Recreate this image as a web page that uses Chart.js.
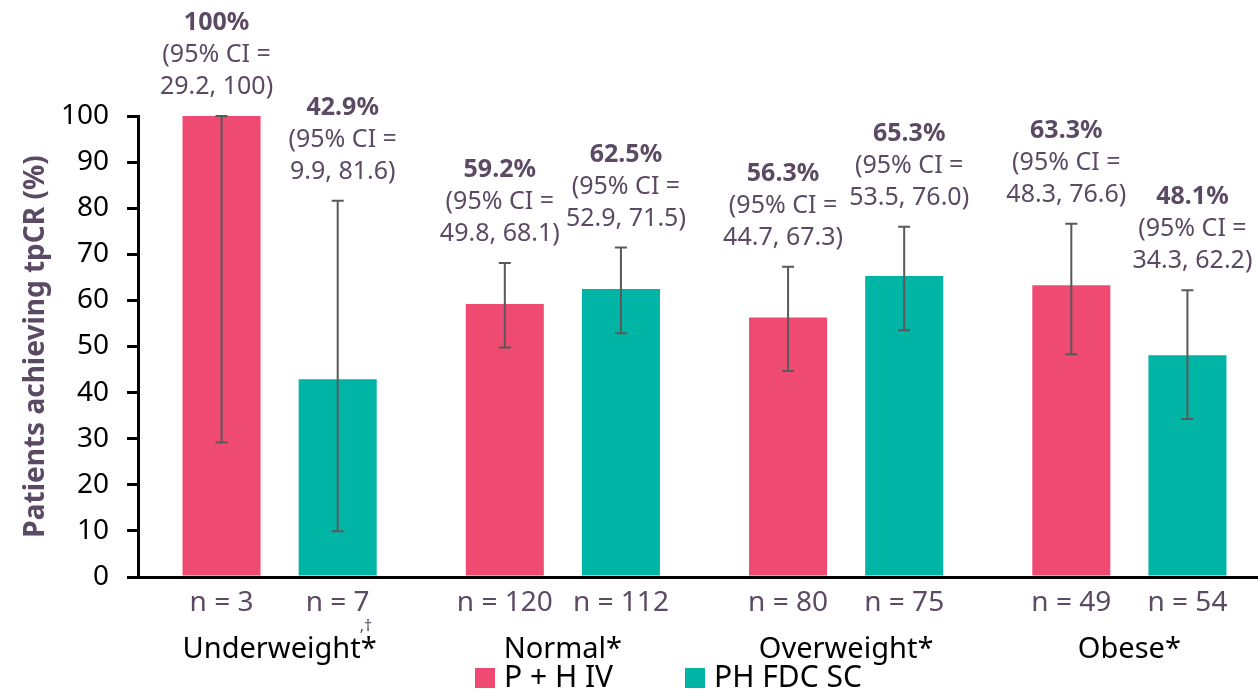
<!DOCTYPE html>
<html>
<head>
<meta charset="utf-8">
<script src="https://cdn.jsdelivr.net/npm/chart.js@4.4.0/dist/chart.umd.min.js"></script>
<style>
  body { margin: 0; background: #fff; }
  #wrap { width: 1258px; height: 691px; position: relative; overflow: hidden; }
  #myChart { display: block; }
</style>
</head>
<body>
<div id="wrap"><canvas id="myChart" width="1271" height="691"></canvas></div>
<script>
const categories = ['Underweight*', 'Normal*', 'Overweight*', 'Obese*'];
const seriesNames = ['P + H IV', 'PH FDC SC'];

const ivValues = [100, 59.2, 56.3, 63.3];
const ivLow = [29.2, 49.8, 44.7, 48.3];
const ivHigh = [100, 68.1, 67.3, 76.6];
const ivN = [3, 120, 80, 49];

const scValues = [42.9, 62.5, 65.3, 48.1];
const scLow = [9.9, 52.9, 53.5, 34.3];
const scHigh = [81.6, 71.5, 76.0, 62.2];
const scN = [7, 112, 75, 54];

const yTicks = [0, 10, 20, 30, 40, 50, 60, 70, 80, 90, 100];

const PINK = '#ef4a72';
const TEAL = '#00b5a5';
const TXT = '#5b4a63';
const FONT = "'Noto Sans', 'Open Sans', sans-serif";

const fmt = v => (v === 100 ? '100' : v.toFixed(1));

// error bars, value labels, n labels and legend
const extrasPlugin = {
    id: 'extras',
    afterDatasetsDraw(chart) {
        const ctx = chart.ctx;
        const y = chart.scales.y;
        const groups = [
            { lo: ivLow, hi: ivHigh, val: ivValues, n: ivN, shift: -5 },
            { lo: scLow, hi: scHigh, val: scValues, n: scN, shift: 5 }
        ];
        ctx.save();
        groups.forEach((g, di) => {
            const meta = chart.getDatasetMeta(di);
            meta.data.forEach((bar, i) => {
                const x = bar.x;
                const yLo = y.getPixelForValue(g.lo[i]);
                const yHi = y.getPixelForValue(g.hi[i]);
                // error bar
                ctx.strokeStyle = '#595959';
                ctx.lineWidth = 2;
                ctx.beginPath();
                ctx.moveTo(x, yLo); ctx.lineTo(x, yHi);
                ctx.moveTo(x - 6, yLo); ctx.lineTo(x + 6, yLo);
                ctx.moveTo(x - 6, yHi); ctx.lineTo(x + 6, yHi);
                ctx.stroke();

                // value + CI label, nudged apart so neighbours don't touch
                const lx = x + g.shift;
                ctx.fillStyle = TXT;
                ctx.textAlign = 'center';
                ctx.textBaseline = 'middle';
                const base = yHi - 29;
                ctx.font = 'bold 25px ' + FONT;
                ctx.fillText(fmt(g.val[i]) + '%', lx, base - 64);
                ctx.font = '25px ' + FONT;
                ctx.fillText('(95% CI =', lx, base - 32);
                ctx.fillText(fmt(g.lo[i]) + ', ' + fmt(g.hi[i]) + ')', lx, base);

                // n label
                ctx.font = '28px ' + FONT;
                ctx.fillText('n = ' + g.n[i], x, 603);
            });
        });

        // footnote mark on Underweight
        const xs = chart.scales.x.getPixelForValue(0);
        ctx.fillStyle = TXT;
        ctx.font = '16px ' + FONT;
        ctx.textAlign = 'left';
        ctx.fillText(',\u2020', xs + 80, 626);

        // legend
        const items = [
            { label: seriesNames[0], color: PINK, x: 475 },
            { label: seriesNames[1], color: TEAL, x: 685 }
        ];
        ctx.font = '30px ' + FONT;
        ctx.textBaseline = 'middle';
        items.forEach(it => {
            ctx.fillStyle = it.color;
            ctx.fillRect(it.x, 668, 20, 20);
            ctx.fillStyle = '#000';
            ctx.fillText(it.label, it.x + 29, 678);
        });
        ctx.restore();
    }
};

const ctx = document.getElementById('myChart').getContext('2d');
const myChart = new Chart(ctx, {
    type: 'bar',
    data: {
        labels: categories,
        datasets: [
            {
                label: seriesNames[0],
                data: ivValues,
                backgroundColor: PINK,
                barPercentage: 0.672,
                categoryPercentage: 0.82
            },
            {
                label: seriesNames[1],
                data: scValues,
                backgroundColor: TEAL,
                barPercentage: 0.672,
                categoryPercentage: 0.82
            }
        ]
    },
    options: {
        responsive: false,
        maintainAspectRatio: false,
        animation: false,
        devicePixelRatio: 1,
        layout: { padding: { top: 116, right: 0, left: 0, bottom: 0 } },
        scales: {
            x: {
                grid: { display: false, drawTicks: false },
                border: { color: '#000', width: 3 },
                ticks: {
                    color: '#000',
                    padding: 55,
                    font: { family: FONT, size: 29 }
                },
                afterFit: s => { s.height = 114; }
            },
            y: {
                min: 0,
                max: 100,
                afterBuildTicks: s => { s.ticks = yTicks.map(v => ({ value: v })); },
                grid: { drawOnChartArea: false, drawTicks: true, tickLength: 11, color: '#000', lineWidth: 3 },
                border: { color: '#000', width: 3 },
                ticks: {
                    color: '#000',
                    padding: 18,
                    font: { family: FONT, size: 28 }
                },
                title: {
                    display: true,
                    text: 'Patients achieving tpCR (%)',
                    color: TXT,
                    font: { family: FONT, size: 28, weight: 'bold' },
                    padding: { top: 19, bottom: 0 }
                },
                afterFit: s => { s.width = 138; }
            }
        },
        plugins: {
            legend: { display: false },
            tooltip: { enabled: false }
        }
    },
    plugins: [extrasPlugin]
});
</script>
</body>
</html>
